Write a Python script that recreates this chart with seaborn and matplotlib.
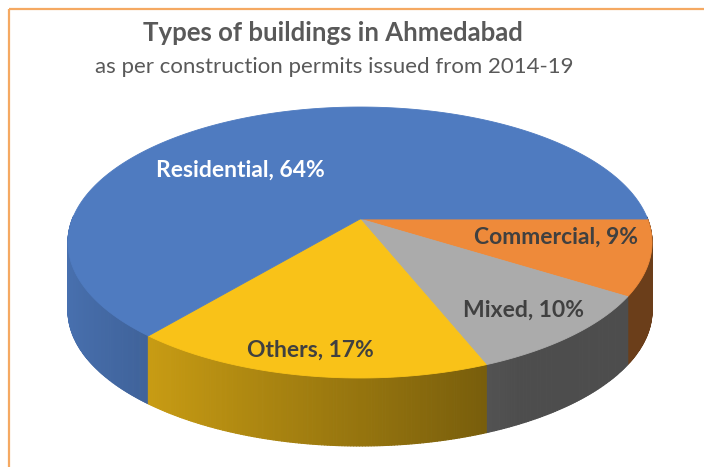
import numpy as np
import matplotlib
matplotlib.use("Agg")
import matplotlib.pyplot as plt
import matplotlib.colors as mcolors
from matplotlib.collections import PolyCollection
from matplotlib.patches import Polygon, Rectangle
import seaborn as sns

# data (clockwise from 3 o'clock, as in the original Excel chart)
categories = ["Commercial", "Mixed", "Others", "Residential"]
shares = [9, 10, 17, 64]
top_colors = ["#EE8A3A", "#ABABAB", "#F9C218", "#4F7BC0"]
label_colors = ["#404040", "#404040", "#404040", "#FFFFFF"]

title = "Types of buildings in Ahmedabad"
subtitle = "as per construction permits issued from 2014-19"

# layout of the tilted disc, in pixels
CX, CY = 360, 219          # projected centre of the pie
RX, RY = 287.6, 131.4      # radii before perspective
PERSP = 0.1735             # perspective strength (back is smaller)
DEPTH = 68                 # thickness of the disc
# label anchors on the disc plane (u, v), one per slice
LABEL_UV = [(0.666, -0.134), (0.509, -0.618), (-0.148, -0.850), (-0.446, 0.399)]


def project(u, v):
    w = 1 + PERSP * v
    return CX + RX * u / w, CY - RY * v / w


def side_color(hex_color, cos_t):
    # light comes from the left, sides get darker to the right
    f = np.clip(0.60 - 0.32 * cos_t, 0.45, 0.91)
    rgb = np.array(mcolors.to_rgb(hex_color)) * f
    return np.clip(rgb, 0, 1)


sns.set_theme(style="white")
plt.rcParams["font.family"] = ["Lato", "DejaVu Sans"]

fig = plt.figure(figsize=(7.04, 4.67), dpi=100)
fig.patch.set_facecolor("white")
ax = fig.add_axes([0, 0, 1, 1])
ax.set_xlim(0, 704)
ax.set_ylim(467, 0)
ax.axis("off")

fracs = np.array(shares, dtype=float) / np.sum(shares)
edges = -2 * np.pi * np.concatenate([[0], np.cumsum(fracs)])

# side walls (only the front half is visible)
quads, qcols, qkey = [], [], []
for i, col in enumerate(top_colors):
    n = max(int(abs(edges[i + 1] - edges[i]) * 120), 8)
    th = np.linspace(edges[i], edges[i + 1], n)
    for t0, t1 in zip(th[:-1], th[1:]):
        tm = 0.5 * (t0 + t1)
        if np.sin(tm) > 0.02:
            continue
        x0, y0 = project(np.cos(t0), np.sin(t0))
        x1, y1 = project(np.cos(t1), np.sin(t1))
        quads.append([(x0, y0), (x1, y1), (x1, y1 + DEPTH), (x0, y0 + DEPTH)])
        qcols.append(side_color(col, np.cos(tm)))
        qkey.append(np.sin(tm))

order = np.argsort(qkey)[::-1]
walls = PolyCollection([quads[k] for k in order],
                       facecolors=[qcols[k] for k in order],
                       edgecolors=[qcols[k] for k in order], linewidths=0.8)
ax.add_collection(walls)

# top face
for i, col in enumerate(top_colors):
    th = np.linspace(edges[i], edges[i + 1], 300)
    pts = [project(0, 0)] + [project(np.cos(t), np.sin(t)) for t in th]
    ax.add_patch(Polygon(pts, closed=True, facecolor=col, edgecolor=col, lw=0.6))

# data labels
for cat, val, lc, (u, v) in zip(categories, shares, label_colors, LABEL_UV):
    x, y = project(u, v)
    ax.text(x, y, f"{cat}, {val}%", ha="center", va="center",
            fontsize=16.5, fontweight="bold", color=lc)

ax.text(333, 33, title, ha="center", va="center", fontsize=18.5,
        fontweight="bold", color="#595959")
ax.text(334, 67, subtitle, ha="center", va="center", fontsize=16,
        color="#595959")

# chart-area frame, cut off at the right and bottom
ax.add_patch(Rectangle((9, 9), 900, 700, fill=False, edgecolor="#F5A962",
                       lw=1.6, clip_on=True))

fig.savefig("out.png", dpi=100, facecolor="white")
